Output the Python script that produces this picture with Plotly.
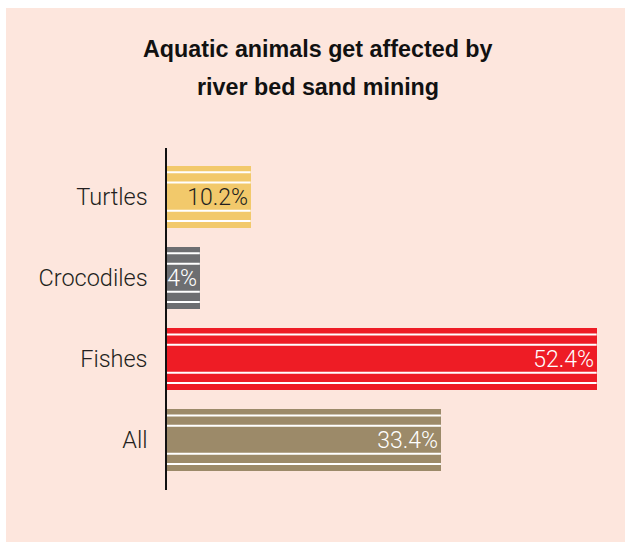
import plotly.graph_objects as go

# Share of aquatic animals affected by river bed sand mining (%)
categories = ["All", "Fishes", "Crocodiles", "Turtles"]
values = [33.4, 52.4, 4, 10.2]
bar_colors = ["#9c8a69", "#ee1c25", "#6d6e71", "#f2c96b"]
label_colors = ["#ffffff", "#ffffff", "#ffffff", "#231f20"]

title_lines = ["Aquatic animals get affected by", "river bed sand mining"]

W, H = 625, 542
M_L, M_R, M_T, M_B = 167, 7, 148, 52
PLOT_W = W - M_L - M_R
PLOT_H = H - M_T - M_B

BAR_WIDTH = 0.765
STRIPE_OFFSETS = [-0.30, -0.173, 0.173, 0.30]

fig = go.Figure(
    go.Bar(
        x=values,
        y=categories,
        orientation="h",
        width=BAR_WIDTH,
        marker=dict(color=bar_colors, line=dict(width=0)),
        texttemplate="%{x}%",
        textposition="inside",
        insidetextanchor="end",
        constraintext="none",
        textangle=0,
        textfont=dict(family="Roboto", size=23, color=label_colors, weight=300),
        hoverinfo="skip",
    )
)

# white pinstripes across each bar
shapes = []
for i, v in enumerate(values):
    for d in STRIPE_OFFSETS:
        shapes.append(dict(
            type="line", xref="x", yref="y",
            x0=0, x1=v, y0=i + d, y1=i + d,
            line=dict(color="white", width=2),
            layer="above",
        ))


def px_x(p):
    return (p - M_L) / PLOT_W


def px_y(p):
    return (H - M_B - p) / PLOT_H


# peach panel behind the chart, leaving a thin white edge top and left
shapes.append(dict(
    type="rect", xref="paper", yref="paper",
    x0=px_x(6), x1=px_x(W + 5), y0=px_y(H + 5), y1=px_y(8),
    fillcolor="#fde6dd", line=dict(width=0), layer="below",
))

annotations = []
for k, line in enumerate(title_lines):
    annotations.append(dict(
        text=f"<b>{line}</b>", xref="paper", yref="paper",
        x=px_x(317.5), y=px_y(49 + 38 * k),
        xanchor="center", yanchor="middle", showarrow=False,
        font=dict(family="Liberation Sans", size=23.3, color="#111111"),
    ))

fig.update_layout(
    width=W, height=H,
    margin=dict(l=M_L, r=M_R, t=M_T, b=M_B),
    paper_bgcolor="white",
    plot_bgcolor="rgba(0,0,0,0)",
    showlegend=False,
    shapes=shapes,
    annotations=annotations,
    bargap=0,
    xaxis=dict(range=[0, 55], visible=False, fixedrange=True),
    yaxis=dict(
        type="category",
        categoryorder="array", categoryarray=categories,
        range=[-0.62, 3.6],
        showline=True, linecolor="#111111", linewidth=1.5,
        showgrid=False, zeroline=False,
        ticks="", ticklabelstandoff=13,
        tickfont=dict(family="Roboto", size=23.5, color="#231f20", weight=300),
        fixedrange=True,
    ),
)

fig.write_html("out.html")
